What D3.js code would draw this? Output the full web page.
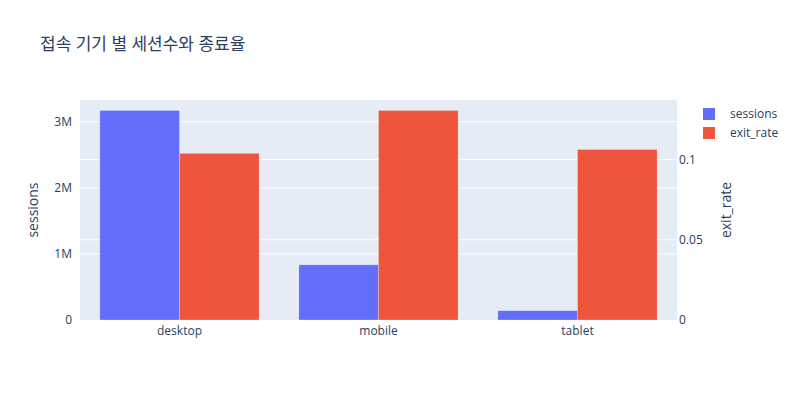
<!DOCTYPE html>
<html><head><meta charset="utf-8">
<script src="https://cdn.jsdelivr.net/npm/d3@7"></script>
<style>body{margin:0;background:#fff}text{font-family:"Open Sans","Noto Sans CJK KR",sans-serif}</style>
</head><body><svg id="c" width="800" height="400"></svg>
<script>
const categories = ["desktop","mobile","tablet"];
const sessions = [3171000, 835000, 141000];
const exitRate = [0.1039, 0.1306, 0.1063];
const seriesNames = ["sessions","exit_rate"];
const leftTicks = [0, 1000000, 2000000, 3000000];
const leftTickLabels = ["0","1M","2M","3M"];
const rightTicks = [0, 0.05, 0.1];
const rightTickLabels = ["0","0.05","0.1"];
const colors = ["#636efa","#EF553B"];

const svg = d3.select("#c");
const m = {l:80, r:123, t:100, b:80};
const W = 800, H = 400;
const x0 = m.l, x1 = W - m.r, y0 = H - m.b, y1 = m.t;
const txt = "#2a3f5f";

svg.append("rect").attr("x",x0).attr("y",y1).attr("width",x1-x0).attr("height",y0-y1).attr("fill","#E5ECF6");

const x = d3.scaleBand().domain(categories).range([x0,x1]).paddingInner(0.2).paddingOuter(0.1);
const xs = d3.scaleBand().domain(seriesNames).range([0,x.bandwidth()]);
const yL = d3.scaleLinear().domain([0, d3.max(sessions)*1.05]).range([y0,y1]);
const yR = d3.scaleLinear().domain([0, d3.max(exitRate)*1.05]).range([y0,y1]);

// gridlines
svg.append("g").selectAll("line").data(leftTicks.slice(1)).join("line")
  .attr("x1",x0).attr("x2",x1).attr("y1",d=>yL(d)).attr("y2",d=>yL(d)).attr("stroke","#fff").attr("stroke-width",1);
svg.append("g").selectAll("line").data(rightTicks.slice(1)).join("line")
  .attr("x1",x0).attr("x2",x1).attr("y1",d=>yR(d)).attr("y2",d=>yR(d)).attr("stroke","#fff").attr("stroke-width",1);

// bars
svg.append("g").selectAll("rect").data(categories).join("rect")
  .attr("x",d=>x(d)+xs("sessions")).attr("width",xs.bandwidth())
  .attr("y",(d,i)=>yL(sessions[i])).attr("height",(d,i)=>y0-yL(sessions[i]))
  .attr("fill",colors[0]).attr("stroke","rgba(255,255,255,0.5)").attr("stroke-width",0.5);
svg.append("g").selectAll("rect").data(categories).join("rect")
  .attr("x",d=>x(d)+xs("exit_rate")).attr("width",xs.bandwidth())
  .attr("y",(d,i)=>yR(exitRate[i])).attr("height",(d,i)=>y0-yR(exitRate[i]))
  .attr("fill",colors[1]).attr("stroke","rgba(255,255,255,0.5)").attr("stroke-width",0.5);

// axes
const axL = d3.axisLeft(yL).tickValues(leftTicks).tickFormat((d,i)=>leftTickLabels[i]).tickSize(0).tickPadding(8);
const gL = svg.append("g").attr("transform",`translate(${x0},0)`).call(axL);
const axR = d3.axisRight(yR).tickValues(rightTicks).tickFormat((d,i)=>rightTickLabels[i]).tickSize(0).tickPadding(2);
const gR = svg.append("g").attr("transform",`translate(${x1},0)`).call(axR);
const axB = d3.axisBottom(x).tickSize(0).tickPadding(6);
const gB = svg.append("g").attr("transform",`translate(0,${y0})`).call(axB);
[gL,gR,gB].forEach(g=>{
  g.select(".domain").remove();
  g.selectAll("text").attr("fill",txt).style("font-size","12px").style("font-family",'"Open Sans",sans-serif');
});

// axis titles
svg.append("text").attr("transform",`translate(38,${(y0+y1)/2}) rotate(-90)`).attr("text-anchor","middle")
  .attr("fill",txt).style("font-size","14px").text("sessions");
svg.append("text").attr("transform",`translate(731,${(y0+y1)/2}) rotate(-90)`).attr("text-anchor","middle")
  .attr("fill",txt).style("font-size","14px").text("exit_rate");

// title
svg.append("text").attr("x",40).attr("y",50).attr("fill",txt).style("font-size","17px").text("접속 기기 별 세션수와 종료율");

// legend
const lg = svg.append("g").selectAll("g").data(seriesNames).join("g")
  .attr("transform",(d,i)=>`translate(703,${114+i*19})`);
lg.append("rect").attr("x",0).attr("y",-6).attr("width",12).attr("height",12).attr("fill",(d,i)=>colors[i]);
lg.append("text").attr("x",27).attr("y",0).attr("dy","0.35em").attr("fill",txt).style("font-size","12px").text(d=>d);
</script></body></html>
